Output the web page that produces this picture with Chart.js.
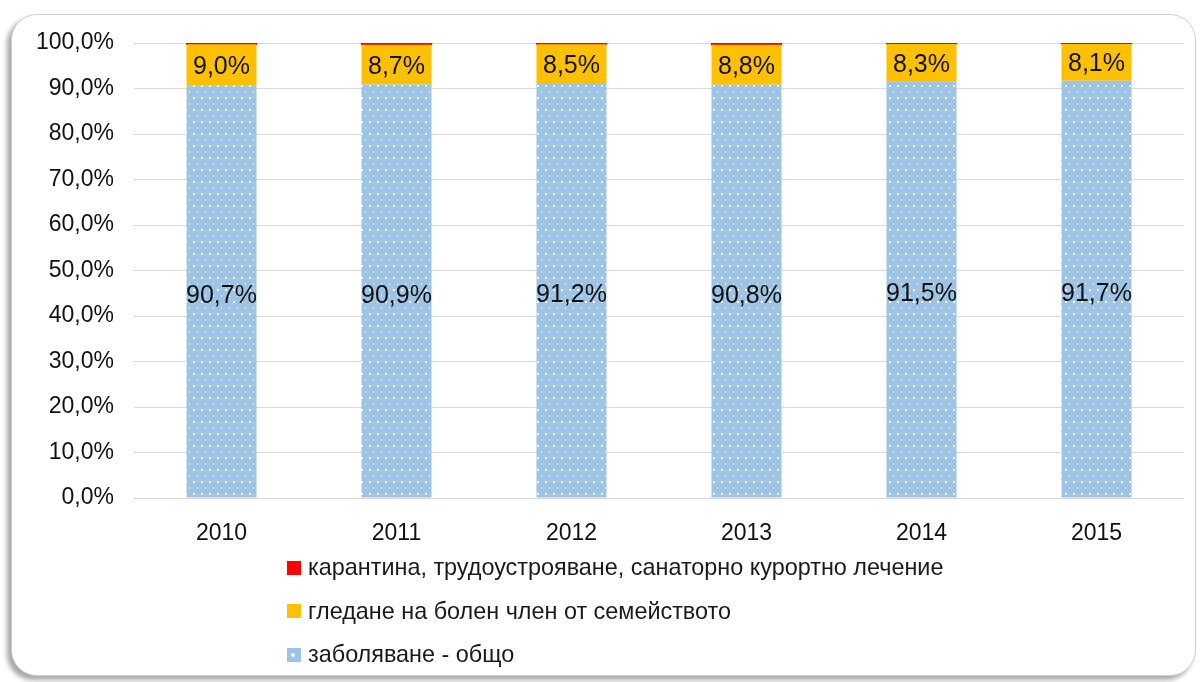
<!DOCTYPE html>
<html>
<head>
<meta charset="utf-8">
<script src="https://cdn.jsdelivr.net/npm/chart.js@4"></script>
<style>
  body { margin: 0; background: #fff; width: 1204px; height: 682px; overflow: hidden; }
  #frame {
    position: absolute; left: 11px; top: 14px; width: 1183px; height: 660px;
    border: 1px solid #d0d0d0; border-radius: 26px; background: #fff;
    box-shadow: -4px 4px 5px rgba(0,0,0,0.35);
  }
  #wrap { position: absolute; left: 0; top: 0; width: 1204px; height: 560px; }
  #legend { position: absolute; left: 287px; top: 546px; font-family: "Liberation Sans", Arial, sans-serif; font-size: 23.4px; color: #1a1a1a; }
  .row { height: 43.5px; display: flex; align-items: center; }
  .box { width: 14px; height: 14px; margin-right: 7px; }
</style>
</head>
<body>
<div id="frame"></div>
<div id="wrap"><canvas id="chart"></canvas></div>
<div id="legend"></div>
<script>
/////////////////////////////////// DATA ///////////////////////////////////
const years = ['2010', '2011', '2012', '2013', '2014', '2015'];
const sickness = [90.7, 90.9, 91.2, 90.8, 91.5, 91.7];
const familyCare = [9.0, 8.7, 8.5, 8.8, 8.3, 8.1];
const quarantine = [0.3, 0.4, 0.3, 0.4, 0.2, 0.2];

const seriesNames = [
    'заболяване - общо',
    'гледане на болен член от семейството',
    'карантина, трудоустрояване, санаторно курортно лечение'
];

/////////////////////////////////// PATTERN ///////////////////////////////////
function dotPattern() {
    const c = document.createElement('canvas');
    c.width = 8; c.height = 12;
    const g = c.getContext('2d');
    g.fillStyle = '#9dc3e6';
    g.fillRect(0, 0, 8, 12);
    g.fillStyle = 'rgba(255,255,255,0.95)';
    g.fillRect(1, 1, 2, 2);
    g.fillStyle = 'rgba(255,255,255,0.75)';
    g.fillRect(5, 7, 1, 2);
    return g.createPattern(c, 'repeat');
}
const blueFill = dotPattern();

const fmt = v => v.toFixed(1).replace('.', ',') + '%';

/////////////////////////////////// LABELS PLUGIN ///////////////////////////////////
const barLabels = {
    id: 'barLabels',
    afterDatasetsDraw(chart) {
        const ctx = chart.ctx;
        ctx.save();
        ctx.font = '25px "Liberation Sans", Arial, sans-serif';
        ctx.fillStyle = '#111';
        ctx.textAlign = 'center';
        ctx.textBaseline = 'middle';
        [0, 1].forEach(di => {
            const meta = chart.getDatasetMeta(di);
            meta.data.forEach((bar, i) => {
                const v = chart.data.datasets[di].data[i];
                const dy = di === 0 ? 5 : 2;
                ctx.fillText(fmt(v), bar.x, (bar.y + bar.base) / 2 + dy);
            });
        });
        ctx.restore();
    }
};

/////////////////////////////////// CHART ///////////////////////////////////
const font = { family: '"Liberation Sans", Arial, sans-serif', size: 23 };

new Chart(document.getElementById('chart'), {
    type: 'bar',
    data: {
        labels: years,
        datasets: [
            { label: seriesNames[0], data: sickness, backgroundColor: blueFill },
            { label: seriesNames[1], data: familyCare, backgroundColor: '#ffc000' },
            { label: seriesNames[2], data: quarantine, backgroundColor: '#ff0000', inflateAmount: 0.6 }
        ]
    },
    options: {
        responsive: true,
        maintainAspectRatio: false,
        animation: false,
        layout: { padding: { left: 20, right: 20, top: 43, bottom: 0 } },
        datasets: { bar: { categoryPercentage: 1, barPercentage: 0.4 } },
        plugins: { legend: { display: false }, tooltip: { enabled: false } },
        scales: {
            x: {
                stacked: true,
                grid: { display: false },
                border: { display: false },
                ticks: { font: font, color: '#111', padding: 14 },
                afterFit: s => { s.height = 62; }
            },
            y: {
                stacked: true,
                min: 0, max: 100,
                grid: { color: '#d9d9d9', drawTicks: false },
                border: { display: false },
                ticks: { stepSize: 10, font: font, color: '#111', padding: 20, callback: v => fmt(v) },
                afterFit: s => { s.width = 114; }
            }
        }
    },
    plugins: [barLabels]
});

/////////////////////////////////// LEGEND ///////////////////////////////////
const legendColors = ['#ff0000', '#ffc000', null];
const legendNames = [seriesNames[2], seriesNames[1], seriesNames[0]];
const legend = document.getElementById('legend');
legendNames.forEach((name, i) => {
    const row = document.createElement('div');
    row.className = 'row';
    const box = document.createElement('div');
    box.className = 'box';
    if (legendColors[i]) box.style.background = legendColors[i];
    else box.style.background = 'radial-gradient(circle at 6px 7px, #fff 1.5px, #9dc3e6 2px)';
    row.appendChild(box);
    const t = document.createElement('span');
    t.textContent = name;
    row.appendChild(t);
    legend.appendChild(row);
});
</script>
</body>
</html>
